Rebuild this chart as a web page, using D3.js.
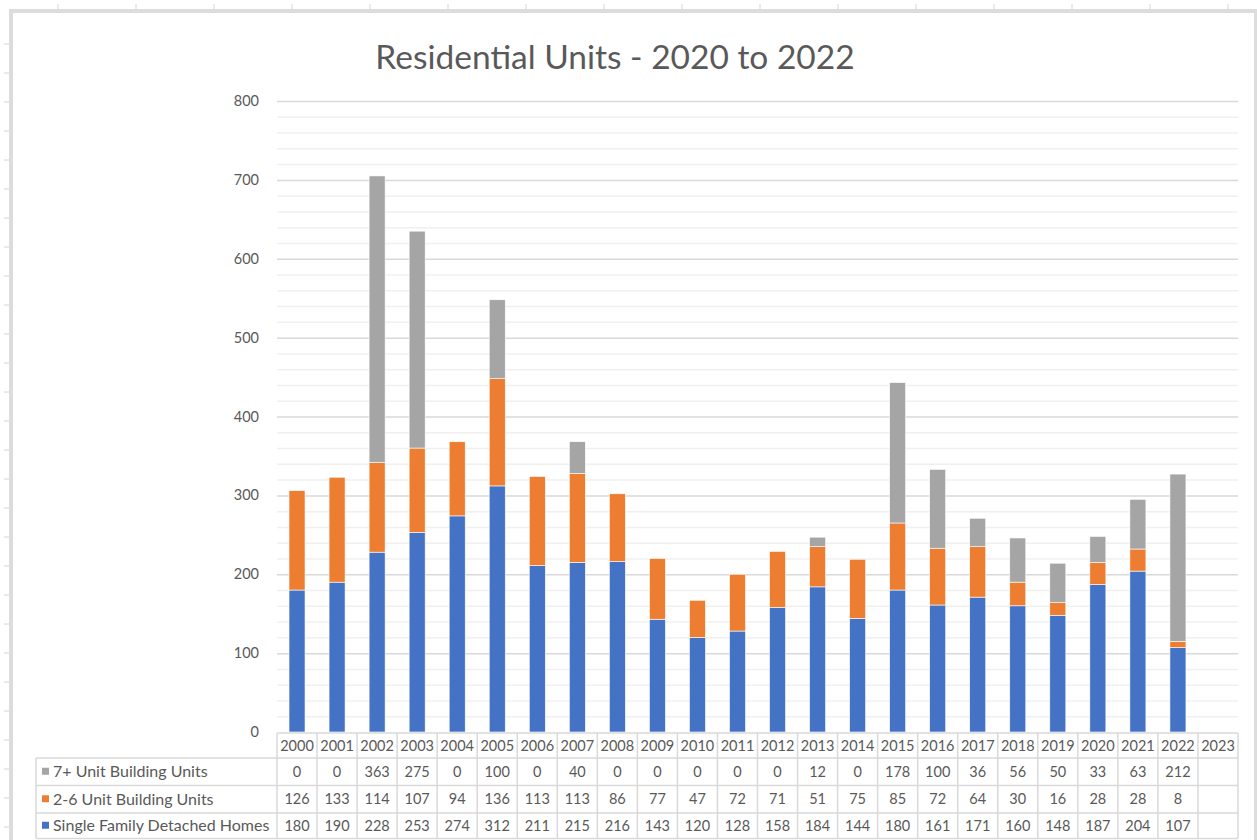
<!DOCTYPE html>
<html>
<head>
<meta charset="utf-8">
<script src="https://cdn.jsdelivr.net/npm/d3@7"></script>
<style>
  body { margin: 0; background: #fff; }
  svg { display: block; font-family: Lato, "Open Sans", sans-serif; }
</style>
</head>
<body>
<svg id="chart" width="1257" height="840"></svg>
<script>
// data
const years = ["2000","2001","2002","2003","2004","2005","2006","2007","2008","2009","2010","2011",
  "2012","2013","2014","2015","2016","2017","2018","2019","2020","2021","2022","2023"]
const singleFamily = [180,190,228,253,274,312,211,215,216,143,120,128,158,184,144,180,161,171,160,148,187,204,107,null]
const twoToSix = [126,133,114,107,94,136,113,113,86,77,47,72,71,51,75,85,72,64,30,16,28,28,8,null]
const sevenPlus = [0,0,363,275,0,100,0,40,0,0,0,0,0,12,0,178,100,36,56,50,33,63,212,null]
const seriesNames = ["Single Family Detached Homes","2-6 Unit Building Units","7+ Unit Building Units"]
const seriesColors = ["#4472c4","#ed7d31","#a5a5a5"]
const yTicks = [0,100,200,300,400,500,600,700,800]
const title = "Residential Units - 2020 to 2022"

const svg = d3.select("#chart")
const W = 1257, H = 840
const textColor = "#595959"
const gridMajor = "#d9d9d9", gridMinor = "#f0f0f0", cellLine = "#d9d9d9"

// spreadsheet ruler marks around the chart object
for (let x = 58; x < W; x += 78)
  svg.append("line").attr("x1", x).attr("x2", x).attr("y1", 4).attr("y2", 10)
    .attr("stroke", "#d4d4d4").attr("stroke-width", 1)
for (let y = 44; y < H; y += 29)
  svg.append("line").attr("x1", 4).attr("x2", 10).attr("y1", y).attr("y2", y)
    .attr("stroke", "#d4d4d4").attr("stroke-width", 1)

// chart frame
svg.append("rect").attr("x", 9).attr("y", 9).attr("width", W - 9).attr("height", 4).attr("fill", "#dcdcdc")
svg.append("rect").attr("x", 9).attr("y", 9).attr("width", 4).attr("height", H - 9).attr("fill", "#dcdcdc")
svg.append("rect").attr("x", 1254).attr("y", 9).attr("width", 3).attr("height", H - 9).attr("fill", "#dcdcdc")

// title
svg.append("text")
  .attr("x", 615).attr("y", 69)
  .attr("text-anchor", "middle")
  .attr("fill", textColor)
  .style("font-size", "33.5px")
  .text(title)

const plotLeft = 277, plotRight = 1238
const y = d3.scaleLinear().domain([0, 800]).range([732, 101])
const x = d3.scaleBand().domain(years).range([plotLeft, plotRight])
const barW = x.bandwidth() / 2.5

// gridlines, minor every 20 and major every 100
const minor = d3.range(20, 800, 20).filter(v => v % 100 != 0)
svg.append("g").selectAll("line").data(minor).join("line")
  .attr("x1", plotLeft).attr("x2", plotRight)
  .attr("y1", d => y(d) + 0.5).attr("y2", d => y(d) + 0.5)
  .attr("stroke", gridMinor).attr("stroke-width", 1.5)
svg.append("g").selectAll("line").data(yTicks.slice(1)).join("line")
  .attr("x1", plotLeft).attr("x2", plotRight)
  .attr("y1", d => y(d) + 0.5).attr("y2", d => y(d) + 0.5)
  .attr("stroke", gridMajor).attr("stroke-width", 1.5)

// y axis labels
svg.append("g").selectAll("text").data(yTicks).join("text")
  .attr("x", 259).attr("y", d => y(d) + 5)
  .attr("text-anchor", "end")
  .attr("fill", textColor)
  .style("font-size", "14.5px")
  .text(d => d)

// stacked bars
const rows = years.map((yr, i) => ({ year: yr, s0: singleFamily[i] || 0, s1: twoToSix[i] || 0, s2: sevenPlus[i] || 0 }))
const stack = d3.stack().keys(["s0", "s1", "s2"])(rows)
svg.append("g").selectAll("g").data(stack).join("g")
  .attr("fill", (d, i) => seriesColors[i])
  .selectAll("rect").data(d => d.filter(p => p[1] - p[0] > 0)).join("rect")
  .attr("x", d => x(d.data.year) + (x.bandwidth() - barW) / 2)
  .attr("width", barW)
  .attr("y", d => y(d[1]))
  .attr("height", d => y(d[0]) - y(d[1]))
  .attr("stroke", "#fff").attr("stroke-width", 0.6)

// data table
const headTop = 733, rowEdges = [758, 785.5, 813, 838.5]
const legendLeft = 36
const table = svg.append("g")
const hLine = (x1, x2, yy) => table.append("line").attr("x1", x1).attr("x2", x2).attr("y1", yy).attr("y2", yy)
  .attr("stroke", cellLine).attr("stroke-width", 1.5)
const vLine = (xx, y1, y2) => table.append("line").attr("x1", xx).attr("x2", xx).attr("y1", y1).attr("y2", y2)
  .attr("stroke", cellLine).attr("stroke-width", 1.5)

hLine(plotLeft, plotRight, headTop)
rowEdges.forEach(e => hLine(legendLeft, plotRight, e))
vLine(legendLeft, rowEdges[0], rowEdges[3])
years.forEach(yr => vLine(x(yr), headTop, rowEdges[3]))
vLine(plotRight, headTop, rowEdges[3])

table.selectAll("text.yr").data(years).join("text").attr("class", "yr")
  .attr("x", d => x(d) + x.bandwidth() / 2).attr("y", headTop + 18)
  .attr("text-anchor", "middle").attr("fill", textColor).style("font-size", "14.5px")
  .text(d => d)

// table rows top to bottom: 7+, 2-6, single family
const tableRows = [
  { name: seriesNames[2], color: seriesColors[2], vals: sevenPlus },
  { name: seriesNames[1], color: seriesColors[1], vals: twoToSix },
  { name: seriesNames[0], color: seriesColors[0], vals: singleFamily }
]
tableRows.forEach((r, ri) => {
  const top = rowEdges[ri], bot = rowEdges[ri + 1]
  const mid = (top + bot) / 2
  table.append("rect").attr("x", 42).attr("y", mid - 4).attr("width", 7).attr("height", 7).attr("fill", r.color)
  table.append("text").attr("x", 53).attr("y", mid + 5.5)
    .attr("fill", textColor).style("font-size", "16px").text(r.name)
  table.append("g").selectAll("text").data(r.vals).join("text")
    .attr("x", (d, i) => x(years[i]) + x.bandwidth() / 2).attr("y", mid + 5)
    .attr("text-anchor", "middle").attr("fill", textColor).style("font-size", "14.5px")
    .text(d => d == null ? "" : d)
})
</script>
</body>
</html>
